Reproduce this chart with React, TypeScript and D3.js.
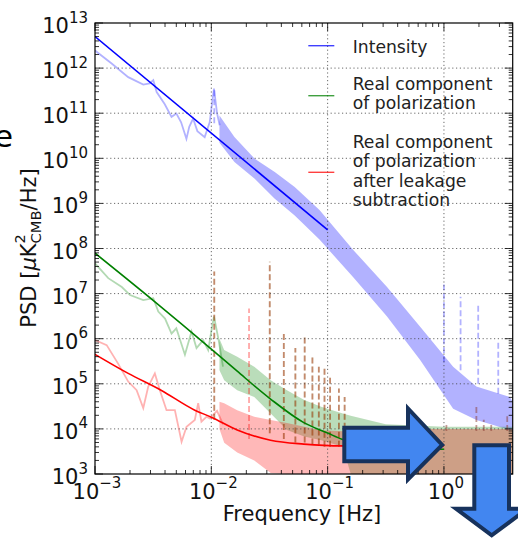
import React from "react";
import * as d3 from "d3";

const W = 518;
const H = 541;
const FONT = "DejaVu Sans, Verdana, sans-serif";

// ---------- axes ----------
const xDomain: [number, number] = [1e-3, 3.9];
const yDomain: [number, number] = [1e3, 1e13];
const xTickExps = [-3, -2, -1, 0];
const yTickExps = [3, 4, 5, 6, 7, 8, 9, 10, 11, 12, 13];

// ---------- fitted models ----------
const blueFitF = [0.001, 0.1];
const blueFitP = [5.0e12, 2.6e8];

const greenFitF = [0.001, 0.00316, 0.01, 0.0167, 0.0323, 0.0624, 0.1, 0.133, 0.316, 1.0];
const greenFitP = [7.9e7, 7.1e6, 5.9e5, 1.9e5, 4.6e4, 1.38e4, 8.1e3, 5.9e3, 4.0e3, 3.55e3];

const redFitF = [0.001, 0.00193, 0.00373, 0.00721, 0.01, 0.0167, 0.0323, 0.0624, 0.133, 1.0];
const redFitP = [4.5e5, 1.7e5, 7.1e4, 2.6e4, 1.82e4, 9.5e3, 5.6e3, 4.6e3, 4.2e3, 4.2e3];

// ---------- measured PSD, low frequencies (light traces) ----------
const blueLowF = [0.001, 0.00139, 0.00193, 0.0026, 0.00295, 0.00317, 0.00339, 0.00398, 0.00455, 0.00501, 0.0055, 0.00611, 0.00646, 0.00697, 0.00759, 0.00877, 0.00968, 0.01054, 0.0112, 0.0118];
const blueLowP = [2.45e12, 1.26e12, 6.3e11, 4.3e11, 4.6e11, 5.4e11, 2.95e11, 1.58e11, 8.3e10, 9.8e10, 6.3e10, 2.7e10, 5.0e10, 7.6e10, 4.0e10, 2.95e10, 6.3e10, 3.5e11, 1.0e11, 5.4e10];

const greenLowF = [0.001, 0.0013, 0.0017, 0.002, 0.0026, 0.00317, 0.0035, 0.004, 0.00455, 0.005, 0.00593, 0.00676, 0.00746, 0.00851, 0.0094, 0.01, 0.01054, 0.01156, 0.0126];
const greenLowP = [4.7e7, 2.2e7, 1.4e7, 9.3e6, 7.2e6, 7.9e6, 4.0e6, 2.8e6, 1.3e6, 1.7e6, 4.4e5, 1.45e6, 6.2e5, 9.3e5, 5.6e5, 1.45e6, 3.1e6, 9.3e5, 2.4e5];

const redLowF = [0.001, 0.00126, 0.00158, 0.00193, 0.00228, 0.0026, 0.00287, 0.00327, 0.00361, 0.00412, 0.00486, 0.00555, 0.00612, 0.00721, 0.00771, 0.00822, 0.00908, 0.0097, 0.0112, 0.0126];
const redLowP = [9.3e5, 7.2e5, 2.8e5, 1.12e5, 7.2e4, 2.9e4, 8.7e4, 1.7e5, 7.2e4, 2.6e4, 2.6e4, 5.2e3, 1.12e4, 1.58e4, 3.7e4, 1.45e4, 1.86e4, 1.7e4, 2.5e4, 1.26e4];

// ---------- measured PSD, noisy high-frequency envelopes ----------
const blueBandF = [0.01175, 0.0158, 0.0236, 0.0351, 0.0521, 0.0851, 0.166, 0.324, 0.622, 1.2, 1.9, 3.69, 3.9];
const blueBandHi = [8.9e10, 2.95e10, 9.8e9, 5.0e9, 2.3e9, 7.1e8, 9.3e7, 1.4e7, 1.86e6, 2.4e5, 8.7e4, 5.1e4, 4.0e4];
const blueBandLo = [2.2e10, 8.3e9, 3.5e9, 1.26e9, 5.4e8, 1.58e8, 2.3e7, 3.1e6, 3.4e5, 2.8e4, 1.58e4, 9.5e3, 9.5e3];

const greenBandF = [0.01175, 0.0129, 0.0167, 0.0234, 0.0324, 0.0447, 0.063, 0.088, 0.135, 0.158, 0.316, 1.0, 3.9];
const greenBandHi = [1.0e6, 5.6e5, 4.0e5, 2.4e5, 1.2e5, 7.2e4, 4.4e4, 3.1e4, 2.2e4, 1.95e4, 1.26e4, 1.12e4, 1.12e4];
const greenBandLo = [2.0e5, 1.2e5, 7.2e4, 5.1e4, 2.2e4, 9.5e3, 6.8e3, 5.6e3, 4.0e3, 1.0e3, 1.0e3, 1.0e3, 1.0e3];

const redBandF = [0.01175, 0.0129, 0.0167, 0.0234, 0.0324, 0.0447, 0.063, 0.088, 0.135, 0.316, 1.0, 3.9];
const redBandHi = [4.0e4, 3.7e4, 2.6e4, 1.86e4, 1.58e4, 1.35e4, 1.12e4, 9.3e3, 8.9e3, 1.0e4, 1.0e4, 1.0e4];
const redBandLo = [1.0e4, 4.9e3, 3.0e3, 2.0e3, 1.05e3, 1.0e3, 1.0e3, 1.0e3, 1.0e3, 1.0e3, 1.0e3, 1.0e3];

// ---------- spin-harmonic spikes (dashed) ----------
const polSpikeF = [0.0106, 0.0318, 0.042, 0.0528, 0.0635, 0.074, 0.084, 0.094, 0.105, 0.125, 0.14];
const polSpikeTop = [3.1e7, 5.1e7, 1.3e6, 6.2e5, 1.1e6, 4.4e5, 2.4e5, 2.2e5, 1.4e5, 7.9e4, 5.1e4];
const polSpikeBottom = [1.6e4, 8.0e3, 6.0e3, 5.0e3, 5.0e3, 4.5e3, 4.5e3, 4.0e3, 4.0e3, 4.0e3, 4.0e3];

const redSpikeF = [0.0211];
const redSpikeTop = [4.7e6];
const redSpikeBottom = [6.0e3];

const blueSpikeF = [0.0106, 1.0, 1.39, 1.97, 2.93];
const blueSpikeTop = [3.5e11, 1.6e7, 8.5e6, 6.2e6, 8.5e5];
const blueSpikeBottom = [6.0e10, 3.0e5, 2.0e5, 1.0e5, 6.0e4];

const leakSpikeF = [1.05, 1.9, 2.2, 2.55, 3.5];
const leakSpikeTop = [1.4e4, 3.1e4, 1.6e4, 1.25e4, 1.9e4];

// ---------- legend ----------
const legendLabels = [
  ["Intensity"],
  ["Real component", "of polarization"],
  ["Real component", "of polarization", "after leakage", "subtraction"],
];
const legendColors = ["#0000ff", "#008000", "#ff0000"];

// ---------- layout ----------
const M = { left: 95, right: 512.7, top: 23, bottom: 474 };

const x = d3.scaleLog().domain(xDomain).range([M.left, M.right]);
const y = d3.scaleLog().domain(yDomain).range([M.bottom, M.top]);

type Pt = { f: number; p: number };
const zip = (f: number[], p: number[]): Pt[] => f.map((v, i) => ({ f: v, p: p[i] }));
type Bd = { f: number; hi: number; lo: number };
const zipBand = (f: number[], hi: number[], lo: number[]): Bd[] =>
  f.map((v, i) => ({ f: v, hi: hi[i], lo: lo[i] }));

const line = d3.line<Pt>().x((d) => x(d.f)).y((d) => y(d.p));
const smooth = d3.line<Pt>().x((d) => x(d.f)).y((d) => y(d.p)).curve(d3.curveMonotoneX);
const area = d3
  .area<Bd>()
  .x((d) => x(d.f))
  .y0((d) => y(d.lo))
  .y1((d) => y(d.hi));

function minorTicks(lo: number, hi: number) {
  const out: number[] = [];
  for (let e = Math.floor(Math.log10(lo)); e <= Math.ceil(Math.log10(hi)); e++) {
    for (let k = 2; k <= 9; k++) {
      const v = k * Math.pow(10, e);
      if (v > lo && v < hi) out.push(v);
    }
  }
  return out;
}

const Spikes = ({ f, top, bottom, color, opacity }: { f: number[]; top: number[]; bottom: number[]; color: string; opacity: number }) => (
  <g>
    {f.map((v, i) => (
      <line
        key={i}
        x1={x(v)}
        x2={x(v)}
        y1={y(bottom[i])}
        y2={y(top[i])}
        stroke={color}
        strokeOpacity={opacity}
        strokeWidth={1.8}
        strokeDasharray="6,3"
      />
    ))}
  </g>
);

export default function App() {
  const xMinor = minorTicks(xDomain[0], xDomain[1]);
  const yMinor = minorTicks(yDomain[0], yDomain[1]);
  const xMajor = xTickExps.map((e) => Math.pow(10, e));
  const yMajor = yTickExps.map((e) => Math.pow(10, e));
  const gridStyle = { stroke: "#444", strokeWidth: 0.8, strokeDasharray: "1.2,2.6" };
  const leakBottom = leakSpikeF.map(() => 9.0e3);

  return (
    <svg
      width={W}
      height={H}
      viewBox={`0 0 ${W} ${H}`}
      style={{ position: "absolute", left: 0, top: 0, background: "#fff" }}
      fontFamily={FONT}
    >
      <defs>
        <clipPath id="plot">
          <rect x={M.left} y={M.top} width={M.right - M.left} height={M.bottom - M.top} />
        </clipPath>
      </defs>

      {/* stray title fragment */}
      <text x={-6} y={147} fontSize={31} fill="#000">e</text>

      <g clipPath="url(#plot)">
        {/* noisy envelopes */}
        <path d={area(zipBand(blueBandF, blueBandHi, blueBandLo)) || ""} fill="#0000ff" fillOpacity={0.3} />
        <path d={area(zipBand(greenBandF, greenBandHi, greenBandLo)) || ""} fill="#008000" fillOpacity={0.27} />
        <path d={area(zipBand(redBandF, redBandHi, redBandLo)) || ""} fill="#ff0000" fillOpacity={0.28} />

        {/* low-frequency light traces */}
        <path d={line(zip(blueLowF, blueLowP)) || ""} fill="none" stroke="#0000ff" strokeOpacity={0.3} strokeWidth={1.8} />
        <path d={line(zip(greenLowF, greenLowP)) || ""} fill="none" stroke="#008000" strokeOpacity={0.3} strokeWidth={1.8} />
        <path d={line(zip(redLowF, redLowP)) || ""} fill="none" stroke="#ff0000" strokeOpacity={0.3} strokeWidth={1.8} />

        {/* spikes */}
        <Spikes f={polSpikeF} top={polSpikeTop} bottom={polSpikeBottom} color="#008000" opacity={0.35} />
        <Spikes f={polSpikeF} top={polSpikeTop} bottom={polSpikeBottom} color="#ff0000" opacity={0.35} />
        <Spikes f={redSpikeF} top={redSpikeTop} bottom={redSpikeBottom} color="#ff0000" opacity={0.35} />
        <Spikes f={blueSpikeF} top={blueSpikeTop} bottom={blueSpikeBottom} color="#0000ff" opacity={0.3} />
        <Spikes f={leakSpikeF} top={leakSpikeTop} bottom={leakBottom} color="#8a3a30" opacity={0.5} />

        {/* grid */}
        {xMajor.slice(1).map((v) => (
          <line key={"gx" + v} x1={x(v)} x2={x(v)} y1={M.top} y2={M.bottom} {...gridStyle} />
        ))}
        {yMajor.slice(1, -1).map((v) => (
          <line key={"gy" + v} x1={M.left} x2={M.right} y1={y(v)} y2={y(v)} {...gridStyle} />
        ))}

        {/* fits */}
        <path d={line(zip(blueFitF, blueFitP)) || ""} fill="none" stroke="#0000ff" strokeWidth={1.6} />
        <path d={smooth(zip(greenFitF, greenFitP)) || ""} fill="none" stroke="#008000" strokeWidth={1.6} />
        <path d={smooth(zip(redFitF, redFitP)) || ""} fill="none" stroke="#ff0000" strokeWidth={1.6} />
      </g>

      {/* frame */}
      <rect x={M.left} y={M.top} width={M.right - M.left} height={M.bottom - M.top} fill="none" stroke="#000" strokeWidth={1.2} />

      {/* ticks */}
      <g stroke="#000" strokeWidth={0.8}>
        {xMajor.map((v) => (
          <g key={"tx" + v}>
            <line x1={x(v)} x2={x(v)} y1={M.bottom} y2={M.bottom - 8} />
            <line x1={x(v)} x2={x(v)} y1={M.top} y2={M.top + 8} />
          </g>
        ))}
        {xMinor.map((v) => (
          <g key={"mx" + v}>
            <line x1={x(v)} x2={x(v)} y1={M.bottom} y2={M.bottom - 4} />
            <line x1={x(v)} x2={x(v)} y1={M.top} y2={M.top + 4} />
          </g>
        ))}
        {yMajor.map((v) => (
          <g key={"ty" + v}>
            <line x1={M.left} x2={M.left + 8} y1={y(v)} y2={y(v)} />
            <line x1={M.right} x2={M.right - 8} y1={y(v)} y2={y(v)} />
          </g>
        ))}
        {yMinor.map((v) => (
          <g key={"my" + v}>
            <line x1={M.left} x2={M.left + 4} y1={y(v)} y2={y(v)} />
            <line x1={M.right} x2={M.right - 4} y1={y(v)} y2={y(v)} />
          </g>
        ))}
      </g>

      {/* tick labels */}
      <g fill="#111" fontSize={21}>
        {yTickExps.map((e) => (
          <text key={"ly" + e} x={88} y={y(Math.pow(10, e)) + 10} textAnchor="end">
            10<tspan dy={-10.5} fontSize={15}>{String(e)}</tspan>
          </text>
        ))}
        {xTickExps.map((e) => (
          <text key={"lx" + e} x={x(Math.pow(10, e)) + 2} y={499} textAnchor="middle">
            10<tspan dy={-11} fontSize={15}>{String(e).replace("-", "\u2212")}</tspan>
          </text>
        ))}
      </g>

      {/* axis labels */}
      <text x={302} y={521} fontSize={21} textAnchor="middle" fill="#111">Frequency [Hz]</text>
      <text transform="translate(36,248) rotate(-90)" fontSize={21} textAnchor="middle" fill="#111">
        PSD [<tspan fontStyle="italic">μ</tspan>K
        <tspan dy={-11} fontSize={14.7}>2</tspan>
        <tspan dx={-9.35} dy={16} fontSize={14.7}>CMB</tspan>
        <tspan dy={-5}>/Hz]</tspan>
      </text>

      {/* legend */}
      <g fontSize={17.2} fill="#222">
        {legendLabels.map((lines, i) => {
          const lineY = [45.7, 95.7, 172.3][i];
          const base = [[52.7], [90, 109], [148, 167, 186.5, 205.5]][i];
          return (
            <g key={"lg" + i}>
              <line x1={308.3} x2={334.3} y1={lineY} y2={lineY} stroke={legendColors[i]} strokeOpacity={0.75} strokeWidth={1.4} />
              {lines.map((t, j) => (
                <text key={j} x={352.7} y={base[j]}>{t}</text>
              ))}
            </g>
          );
        })}
      </g>

      {/* annotation arrows */}
      <path
        d="M344.3,427.7 L408,427.7 L408,408.5 L442.2,445 L408,479.5 L408,461.3 L344.3,461.3 Z"
        fill="#4286f0"
        stroke="#17325c"
        strokeWidth={4}
        strokeLinejoin="miter"
      />
      <path
        d="M474.3,445.3 L509,445.3 L509,508.7 L527.4,508.7 L491.7,535.3 L456,508.7 L474.3,508.7 Z"
        fill="#4286f0"
        stroke="#17325c"
        strokeWidth={4}
        strokeLinejoin="miter"
      />
    </svg>
  );
}
